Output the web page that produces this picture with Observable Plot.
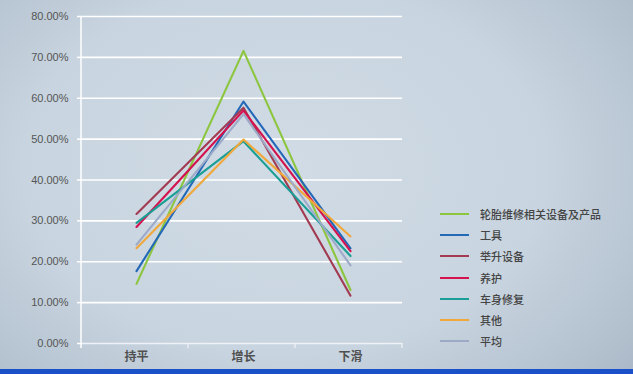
<!DOCTYPE html>
<html><head><meta charset="utf-8">
<script src="https://cdn.jsdelivr.net/npm/d3@7"></script>
<script src="https://cdn.jsdelivr.net/npm/@observablehq/plot@0.6"></script>
<style>
html,body{margin:0;padding:0;width:633px;height:374px;overflow:hidden;}
body{position:relative;background:radial-gradient(ellipse 75% 90% at 45% 45%, #d0dbe5 0%, #c8d4df 55%, #b3c1cf 85%, #a6b4c4 100%);}
#chart{position:absolute;left:0;top:0;}
#legend{position:absolute;left:440px;top:203px;font-family:"Noto Sans CJK SC",sans-serif;font-size:11px;color:#444;font-weight:500;}
.row{height:21.3px;display:flex;align-items:center;}
.sw{width:29px;height:2px;margin-right:11px;}
#bar{position:absolute;left:0;right:0;bottom:0;height:5px;background:#1a50c8;}
</style></head><body>
<div id="chart"></div>
<div id="legend"></div>
<div id="bar"></div>
<script>
const categories = ["持平", "增长", "下滑"];
const seriesNames = ["轮胎维修相关设备及产品", "工具", "举升设备", "养护", "车身修复", "其他", "平均"];
const colors = ["#8cc63e", "#2468b8", "#a23a52", "#d3124e", "#1a9e96", "#f2a73a", "#9caac8"];
const v_tire   = [0.146, 0.716, 0.131];
const v_tools  = [0.177, 0.592, 0.233];
const v_lift   = [0.317, 0.577, 0.117];
const v_care   = [0.285, 0.570, 0.226];
const v_body   = [0.295, 0.495, 0.214];
const v_other  = [0.233, 0.499, 0.262];
const v_avg    = [0.242, 0.561, 0.191];
const yTicks = [0, 0.1, 0.2, 0.3, 0.4, 0.5, 0.6, 0.7, 0.8];

const allValues = [v_tire, v_tools, v_lift, v_care, v_body, v_other, v_avg];
const data = [];
seriesNames.forEach((s, i) => categories.forEach((c, j) => data.push({series: s, cat: c, value: allValues[i][j]})));

const chart = Plot.plot({
  width: 633, height: 374,
  marginLeft: 81, marginRight: 231, marginTop: 16, marginBottom: 31,
  style: {background: "transparent", fontFamily: "Liberation Sans, Arial, sans-serif", overflow: "visible"},
  x: {type: "band", domain: categories, padding: 0, label: null},
  y: {domain: [0, 0.8], label: null},
  color: {domain: seriesNames, range: colors},
  marks: [
    Plot.gridY(yTicks.filter(d => d > 0), {stroke: "#fff", strokeOpacity: 1, strokeWidth: 1.6}),
    Plot.ruleY([0], {stroke: "#eef2f6", strokeWidth: 1.5}),
    Plot.axisY({ticks: yTicks, tickFormat: d3.format(".2%"), tickSize: 4, tickPadding: 9, stroke: "#fff", strokeWidth: 1.5, fill: "#555", fontSize: 11}),
    Plot.axisX({tickSize: 0, tickPadding: 9, dx: 1.5, fill: "#505050", fontSize: 12, fontWeight: "bold", fontFamily: "Noto Sans CJK SC"}),
    Plot.line(data, {x: "cat", y: "value", z: "series", stroke: "series", strokeWidth: 2.1, dx: 1.5, curve: "linear"})
  ]
});
document.getElementById("chart").appendChild(chart);

const sx = chart.scale("x"), sy = chart.scale("y");
const svg = d3.select(chart);
const xr = sx.range, y0 = sy.apply(0), yTop = sy.apply(0.8);
svg.append("line").attr("x1", xr[0]).attr("x2", xr[0]).attr("y1", yTop).attr("y2", y0 + 5).attr("stroke", "#fff").attr("stroke-width", 1.5);
categories.forEach(c => {
  const xe = sx.apply(c) + sx.bandwidth;
  svg.append("line").attr("x1", xe).attr("x2", xe).attr("y1", y0).attr("y2", y0 + 5).attr("stroke", "#eef2f6").attr("stroke-width", 1.2);
});
svg.selectAll("g[aria-label=line]").raise();

const leg = document.getElementById("legend");
seriesNames.forEach((s, i) => {
  const r = document.createElement("div"); r.className = "row";
  r.innerHTML = `<div class="sw" style="background:${colors[i]}"></div><span>${s}</span>`;
  leg.appendChild(r);
});
</script>
</body></html>
